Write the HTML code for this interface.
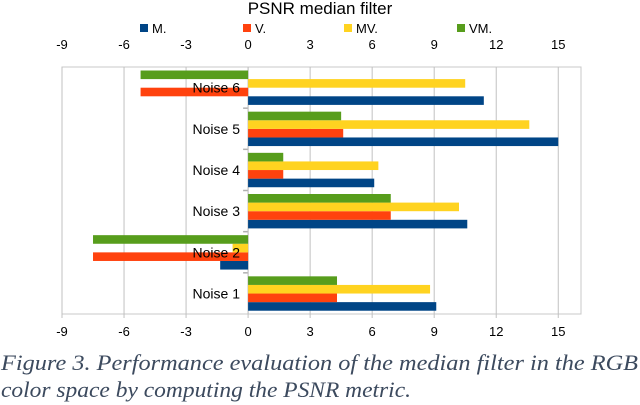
<!DOCTYPE html>
<html><head><meta charset="utf-8"><style>
html,body{margin:0;padding:0;background:#fff;}
svg{display:block;font-family:"Liberation Sans",sans-serif;}
</style></head><body>
<svg id="chart" width="640" height="405" viewBox="0 0 640 405" xmlns="http://www.w3.org/2000/svg">
<text x="320" y="14" text-anchor="middle" font-size="17" fill="#000">PSNR median filter</text>
<g id="legend"></g>
<g id="grid"></g>
<g id="bars"></g>
<g id="labels"></g>
<text font-family="Liberation Serif, serif" font-style="italic" font-size="22" fill="#3c4a5e"><tspan x="1" y="370" textLength="637" lengthAdjust="spacingAndGlyphs">Figure 3. Performance evaluation of the median filter in the RGB</tspan><tspan x="1" y="397" textLength="410" lengthAdjust="spacingAndGlyphs">color space by computing the PSNR metric.</tspan></text>
</svg>
<script>
const categories = ["Noise 1","Noise 2","Noise 3","Noise 4","Noise 5","Noise 6"];
const seriesNames = ["M.","V.","MV.","VM."];
const seriesM = [9.1,-1.35,10.6,6.1,15.0,11.4];
const seriesV = [4.3,-7.5,6.9,1.7,4.6,-5.2];
const seriesMV = [8.8,-0.75,10.2,6.3,13.6,10.5];
const seriesVM = [4.3,-7.5,6.9,1.7,4.5,-5.2];
const ticks = [-9,-6,-3,0,3,6,9,12,15];
const colors = ["#004586","#ff420e","#ffd320","#579d1c"];
const NS="http://www.w3.org/2000/svg";
const L=62,R=581,T=67,B=314,xmin=-9,xmax=16.1;
const X=v=>L+(v-xmin)/(xmax-xmin)*(R-L);
const band=(B-T)/categories.length;
function mk(t,a,p){const e=document.createElementNS(NS,t);for(const k in a)e.setAttribute(k,a[k]);p.appendChild(e);return e;}
const grid=document.getElementById('grid');
mk('rect',{x:L,y:T,width:R-L,height:B-T,fill:'none',stroke:'#c8c8c8','stroke-width':1},grid);
ticks.forEach(t=>{
  const l=mk('line',{x1:X(t),x2:X(t),y1:T,y2:B+4,stroke:'#c0c0c0','stroke-width':1},grid);
  
  
  [49,336].forEach(y=>{
    const tx=mk('text',{x:X(t),y:y,'text-anchor':'middle','font-size':13,fill:'#000'},grid);
    tx.textContent=String(t);
    
    
  });
});
for(let i=1;i<categories.length;i++){
  const y=T+band*i;
  const tk=mk('line',{x1:X(0)-5,x2:X(0),y1:y,y2:y,stroke:'#b0b0b0','stroke-width':1.5},grid);
  
  
}
const bars=document.getElementById('bars');
const all=[seriesM,seriesV,seriesMV,seriesVM];
const bh=8.6;
categories.forEach((c,ci)=>{
  const bandTop=T+band*(categories.length-1-ci);
  // order top to bottom: VM, MV, V, M
  for(let s=0;s<4;s++){
    const v=all[s][ci];
    const y=bandTop+3.5+(3-s)*bh;
    const x0=Math.min(X(0),X(v)),w=Math.abs(X(v)-X(0));
    const r=mk('rect',{x:x0,y:y,width:w,height:bh,fill:colors[s]},bars);
    
    
  }
});
mk('line',{x1:X(0),x2:X(0),y1:T,y2:B,stroke:'#c0c0c0','stroke-width':1},grid);
const labels=document.getElementById('labels');
categories.forEach((c,ci)=>{
  const cy=T+band*(categories.length-1-ci)+band/2;
  const t=mk('text',{x:240,y:cy+5,'text-anchor':'end','font-size':14,fill:'#000'},labels);
  t.textContent=c;
  
  
});
const lg=document.getElementById('legend');
const lx=[140,243,344,457];
seriesNames.forEach((n,i)=>{
  const r=mk('rect',{x:lx[i],y:24,width:8,height:8,fill:colors[i]},lg);
  
  
  const t=mk('text',{x:lx[i]+12,y:33,'font-size':13,fill:'#000'},lg);
  t.textContent=n;
  
  
});
</script>
</body></html>
